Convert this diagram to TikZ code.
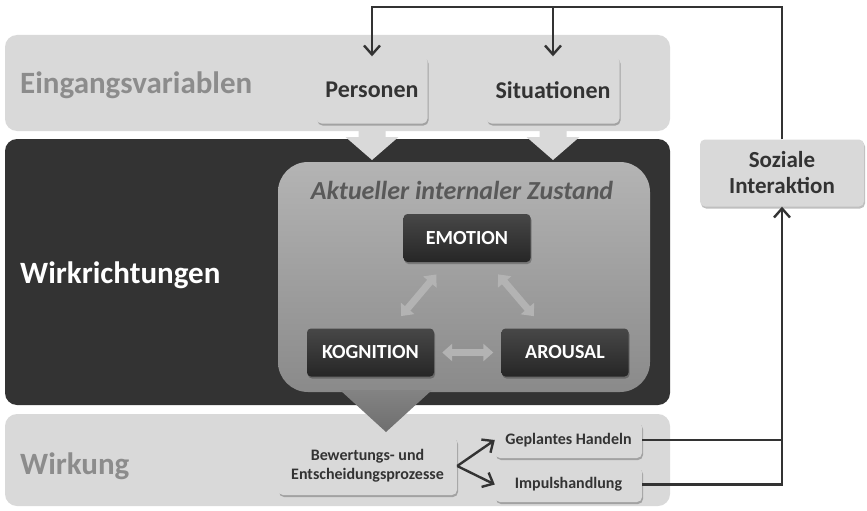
\documentclass[tikz,border=0pt]{standalone}
\usepackage{fontspec}
\setmainfont{Carlito}
\usetikzlibrary{arrows.meta, shadows, calc}

\definecolor{bandgray}{HTML}{D9D9D9}
\definecolor{darkband}{HTML}{333333}
\definecolor{labelgray}{HTML}{8C8C8C}
\definecolor{inktext}{HTML}{333333}
\definecolor{statetop}{HTML}{B4B4B4}
\definecolor{statebot}{HTML}{8A8A8A}
\definecolor{twowaygray}{HTML}{B3B3B3}

\tikzset{
  softshadow/.style={drop shadow={shadow xshift=1pt, shadow yshift=-2pt, opacity=0.25, fill=black}},
  lightbox/.style={fill=bandgray, rounded corners=5pt, softshadow, text=inktext, align=center, inner sep=0pt},
  darkbox/.style={top color=black!72, bottom color=black!85, rounded corners=4pt, softshadow, text=white,
    minimum width=127pt, minimum height=48pt, inner sep=0pt, font=\fontsize{20pt}{23pt}\selectfont\bfseries},
  bandlabel/.style={anchor=west, inner sep=0pt, font=\fontsize{31pt}{34pt}\selectfont\bfseries},
  conn/.style={draw=inktext, line width=2.4pt},
  twoway/.style={draw=twowaygray, line width=7pt, shorten <=#1, shorten >=#1,
    {Triangle[width=17pt,length=10pt]}-{Triangle[width=17pt,length=10pt]}},
  blockarrow/.style={fill=bandgray}
}

\begin{document}
\begin{tikzpicture}[x=1pt, y=-1pt, >={Straight Barb[length=9pt,width=16pt]}]
  \useasboundingbox (0,0) rectangle (867,511);
  \fill[white] (0,0) rectangle (867,511);

  % bands
  \fill[bandgray, rounded corners=12pt] (5,35) rectangle (670,131);
  \fill[darkband, rounded corners=12pt] (5,139) rectangle (670,405);
  \fill[bandgray, rounded corners=12pt] (5,414) rectangle (670,506);

  \node[bandlabel, text=labelgray] (inlab) at (20,85) {Eingangsvariablen};
  \node[bandlabel, text=white] (wirklab) at (20,275) {Wirkrichtungen};
  \node[bandlabel, text=labelgray] (outlab) at (20,466) {Wirkung};

  % input arrows
  \foreach \cx in {372,553} {
    \fill[blockarrow] (\cx-13.5,120) -- (\cx+13.5,120) -- (\cx+13.5,137) -- (\cx+26.5,137)
      -- (\cx,160) -- (\cx-26.5,137) -- (\cx-13.5,137) -- cycle;
  }

  % internal state
  \shade[top color=statetop, bottom color=statebot, rounded corners=30pt] (278,162) rectangle (650,392);
  \shade[top color=statebot!95!black, bottom color=statebot!80!black] (340,390) -- (432,390) -- (386,432) -- cycle;
  \node[text=black!65, inner sep=0pt, font=\fontsize{26pt}{30pt}\selectfont\bfseries\itshape] (statelab)
    at (462,190) {Aktueller internaler Zustand};

  \node[darkbox] (emotion) at (467,238) {EMOTION};
  \node[darkbox] (kognition) at (370.5,352.5) {KOGNITION};
  \node[darkbox] (arousal) at (565,352.5) {AROUSAL};

  \draw[twoway=16pt] (emotion) -- (kognition);
  \draw[twoway=16pt] (emotion) -- (arousal);
  \draw[twoway=8pt] (kognition) -- (arousal);

  % inputs
  \node[lightbox, minimum width=111pt, minimum height=67pt, font=\fontsize{24pt}{28pt}\selectfont\bfseries]
    (personen) at (372,90) {Personen};
  \node[lightbox, minimum width=133pt, minimum height=67pt, font=\fontsize{24pt}{28pt}\selectfont\bfseries]
    (situationen) at (553,90) {Situationen};
  \node[lightbox, minimum width=164pt, minimum height=67pt, font=\fontsize{23pt}{26pt}\selectfont\bfseries]
    (sozial) at (782,173) {Soziale\\Interaktion};

  % outputs
  \node[lightbox, minimum width=179pt, minimum height=58pt, font=\fontsize{16pt}{19pt}\selectfont\bfseries]
    (bewertung) at (367.5,466) {Bewertungs- und\\Entscheidungsprozesse};
  \node[lightbox, minimum width=147pt, minimum height=36pt, font=\fontsize{16pt}{19pt}\selectfont\bfseries]
    (geplant) at (568.5,440) {Geplantes Handeln};
  \node[lightbox, minimum width=147pt, minimum height=35pt, font=\fontsize{16pt}{19pt}\selectfont\bfseries]
    (impuls) at (568.5,484.5) {Impulshandlung};

  \draw[conn, ->] (bewertung.east) -- (geplant.west);
  \draw[conn, ->] (bewertung.east) -- (impuls.west);

  % feedback loop
  \coordinate (topline) at (0,7);
  \draw[conn] (geplant.east) -- (geplant.east -| sozial.south);
  \draw[conn, ->] (impuls.east) -| (sozial.south);
  \draw[conn, ->] (sozial.north) |- (personen.north |- topline) -- (personen.north);
  \draw[conn, ->] (situationen.north |- topline) -- (situationen.north);
\end{tikzpicture}
\end{document}
